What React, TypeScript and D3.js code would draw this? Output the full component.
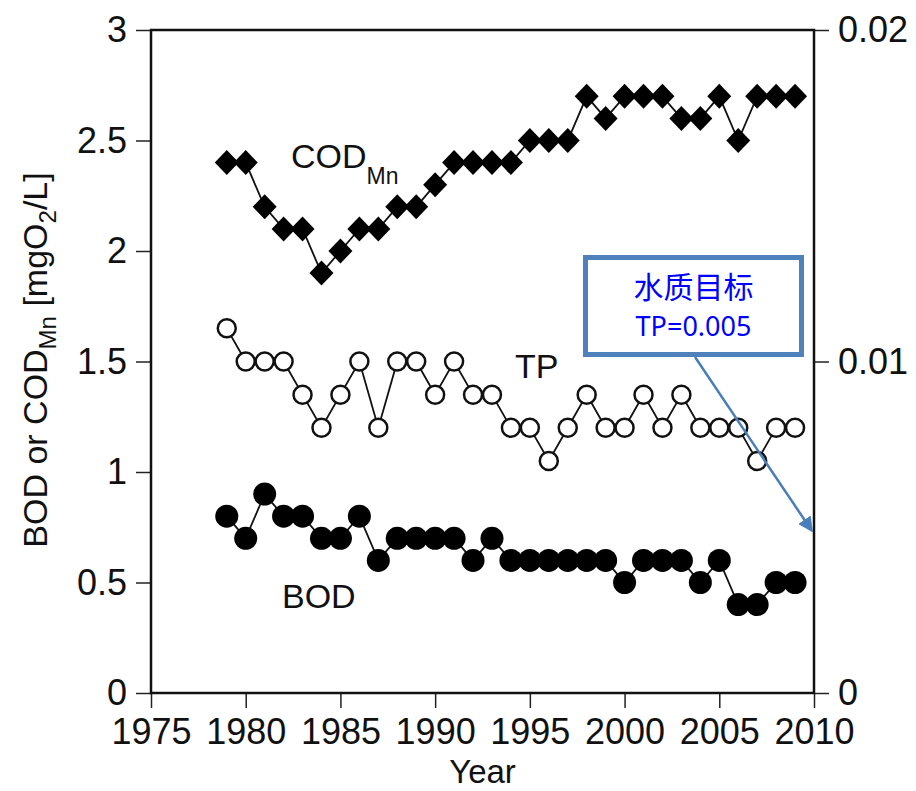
import React, { useEffect, useRef } from "react";
import * as d3 from "d3";

const years = [1979, 1980, 1981, 1982, 1983, 1984, 1985, 1986, 1987, 1988, 1989, 1990, 1991, 1992, 1993, 1994,
  1995, 1996, 1997, 1998, 1999, 2000, 2001, 2002, 2003, 2004, 2005, 2006, 2007, 2008, 2009];
const codMn = [2.4, 2.4, 2.2, 2.1, 2.1, 1.9, 2.0, 2.1, 2.1, 2.2, 2.2, 2.3, 2.4, 2.4, 2.4, 2.4,
  2.5, 2.5, 2.5, 2.7, 2.6, 2.7, 2.7, 2.7, 2.6, 2.6, 2.7, 2.5, 2.7, 2.7, 2.7];
const tp = [0.011, 0.010, 0.010, 0.010, 0.009, 0.008, 0.009, 0.010, 0.008, 0.010, 0.010, 0.009, 0.010, 0.009, 0.009, 0.008,
  0.008, 0.007, 0.008, 0.009, 0.008, 0.008, 0.009, 0.008, 0.009, 0.008, 0.008, 0.008, 0.007, 0.008, 0.008];
const bod = [0.8, 0.7, 0.9, 0.8, 0.8, 0.7, 0.7, 0.8, 0.6, 0.7, 0.7, 0.7, 0.7, 0.6, 0.7, 0.6,
  0.6, 0.6, 0.6, 0.6, 0.6, 0.5, 0.6, 0.6, 0.6, 0.5, 0.6, 0.4, 0.4, 0.5, 0.5];

const xTicks = [1975, 1980, 1985, 1990, 1995, 2000, 2005, 2010];
const leftTicks = [0, 0.5, 1, 1.5, 2, 2.5, 3];
const rightTicks = [0, 0.01, 0.02];
const targetLines = ["水质目标", "TP=0.005"];

const W = 916;
const H = 791;
const font = "'Liberation Sans', Arial, Helvetica, sans-serif";

export default function App() {
  const ref = useRef<SVGSVGElement | null>(null);

  useEffect(() => {
    const svg = d3.select(ref.current);
    svg.selectAll("*").remove();

    const x = d3.scaleLinear().domain([1975, 2010]).range([151, 814]);
    const yL = d3.scaleLinear().domain([0, 3]).range([693, 30]);
    const yR = d3.scaleLinear().domain([0, 0.02]).range([693, 30]);

    // axes
    const gx = svg.append("g")
      .attr("transform", `translate(0,${yL(0)})`)
      .call(d3.axisBottom(x).tickValues(xTicks).tickFormat(d3.format("d")).tickSize(15).tickPadding(10));
    const gl = svg.append("g")
      .attr("transform", `translate(${x(1975)},0)`)
      .call(d3.axisLeft(yL).tickValues(leftTicks).tickFormat(d => String(d)).tickSize(15).tickPadding(9));
    const gr = svg.append("g")
      .attr("transform", `translate(${x(2010)},0)`)
      .call(d3.axisRight(yR).tickValues(rightTicks).tickFormat(d => String(d)).tickSize(15).tickPadding(9));

    [gx, gl, gr].forEach(g => {
      g.select(".domain").remove();
      g.selectAll("line").attr("stroke", "#222").attr("stroke-width", 1.5);
      g.selectAll("text").attr("font-family", font).attr("font-size", 36).attr("fill", "#111");
    });

    svg.append("rect")
      .attr("x", x(1975)).attr("y", yL(3))
      .attr("width", x(2010) - x(1975)).attr("height", yL(0) - yL(3))
      .attr("fill", "none").attr("stroke", "#111").attr("stroke-width", 2.5);

    // lines
    const pts = (vals: number[], y: d3.ScaleLinear<number, number>) =>
      vals.map((v, i) => [x(years[i]), y(v)] as [number, number]);
    const line = d3.line();

    const series = [
      { vals: codMn, y: yL },
      { vals: tp, y: yR },
      { vals: bod, y: yL },
    ];
    series.forEach(s => {
      svg.append("path")
        .attr("d", line(pts(s.vals, s.y)))
        .attr("fill", "none").attr("stroke", "#111").attr("stroke-width", 1.8);
    });

    // COD diamonds
    svg.append("g").selectAll("path")
      .data(pts(codMn, yL))
      .join("path")
      .attr("d", d => `M${d[0]},${d[1] - 12.5}L${d[0] + 12},${d[1]}L${d[0]},${d[1] + 12.5}L${d[0] - 12},${d[1]}Z`)
      .attr("fill", "#000");

    // TP open circles
    svg.append("g").selectAll("circle")
      .data(pts(tp, yR))
      .join("circle")
      .attr("cx", d => d[0]).attr("cy", d => d[1]).attr("r", 9)
      .attr("fill", "#fff").attr("stroke", "#111").attr("stroke-width", 2.5);

    // BOD filled circles
    svg.append("g").selectAll("circle")
      .data(pts(bod, yL))
      .join("circle")
      .attr("cx", d => d[0]).attr("cy", d => d[1]).attr("r", 11.5)
      .attr("fill", "#000");

    // series labels
    const cod = svg.append("text").attr("x", 291).attr("y", 168)
      .attr("font-family", font).attr("font-size", 34).attr("fill", "#111");
    cod.append("tspan").text("COD");
    cod.append("tspan").attr("dy", 16).attr("font-size", 23).text("Mn");

    svg.append("text").attr("x", 515).attr("y", 378)
      .attr("font-family", font).attr("font-size", 34).attr("fill", "#111").text("TP");
    svg.append("text").attr("x", 282).attr("y", 608)
      .attr("font-family", font).attr("font-size", 34).attr("fill", "#111").text("BOD");

    // axis titles
    svg.append("text").attr("x", (x(1975) + x(2010)) / 2).attr("y", 783)
      .attr("text-anchor", "middle")
      .attr("font-family", font).attr("font-size", 33).attr("fill", "#111").text("Year");

    const yt = svg.append("text")
      .attr("transform", "translate(47,360) rotate(-90)")
      .attr("text-anchor", "middle")
      .attr("font-family", font).attr("font-size", 34).attr("fill", "#111");
    yt.append("tspan").text("BOD or COD");
    yt.append("tspan").attr("dy", 9).attr("font-size", 24).text("Mn");
    yt.append("tspan").attr("dy", -9).text(" [mgO");
    yt.append("tspan").attr("dy", 9).attr("font-size", 24).text("2");
    yt.append("tspan").attr("dy", -9).text("/L]");

    // target annotation
    const defs = svg.append("defs");
    defs.append("marker")
      .attr("id", "arrow").attr("viewBox", "0 0 10 10")
      .attr("refX", 9).attr("refY", 5)
      .attr("markerWidth", 6).attr("markerHeight", 6)
      .attr("orient", "auto")
      .append("path").attr("d", "M0,0L10,5L0,10Z").attr("fill", "#4a7ebb");

    svg.append("line")
      .attr("x1", 695).attr("y1", 357).attr("x2", 812).attr("y2", 531)
      .attr("stroke", "#4a7ebb").attr("stroke-width", 2.5)
      .attr("marker-end", "url(#arrow)");

    svg.append("rect")
      .attr("x", 585.5).attr("y", 257.5).attr("width", 216).attr("height", 97)
      .attr("fill", "#fff").attr("stroke", "#4f81bd").attr("stroke-width", 5);

    svg.append("g").selectAll("text")
      .data(targetLines)
      .join("text")
      .attr("x", 693.5).attr("y", (d, i) => (i === 0 ? 298 : 336))
      .attr("text-anchor", "middle")
      .attr("font-family", (d, i) => (i === 0 ? "'Noto Sans CJK SC', sans-serif" : "'Noto Sans', sans-serif"))
      .attr("font-size", (d, i) => (i === 0 ? 30 : 27))
      .attr("fill", "#0000ff")
      .text(d => d);
  }, []);

  return (
    <svg ref={ref} width={W} height={H}
      style={{ position: "absolute", left: 0, top: 0, background: "#fff" }} />
  );
}
